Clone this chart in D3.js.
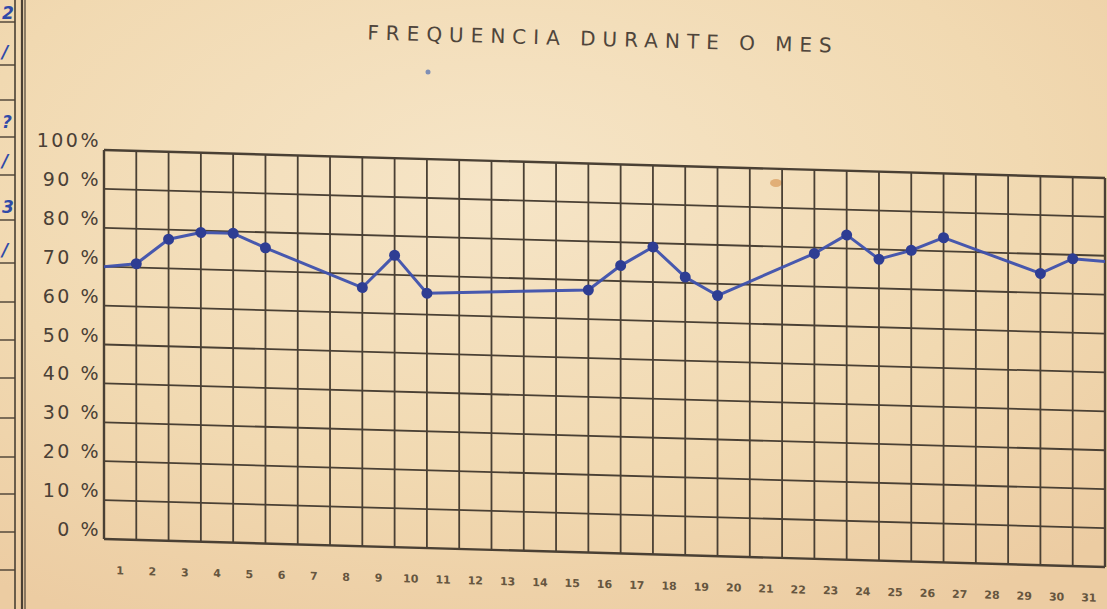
<!DOCTYPE html>
<html>
<head>
<meta charset="utf-8">
<script src="https://cdn.jsdelivr.net/npm/d3@7"></script>
<style>
	html, body { margin: 0; padding: 0; background: #f1dbb3; overflow: hidden; }
	svg { display: block; }
</style>
</head>
<body>
<svg id="chart" width="1107" height="609"></svg>
<script>

// Chart data
const title = "FREQUENCIA DURANTE O MES";
const yTicks = [0, 10, 20, 30, 40, 50, 60, 70, 80, 90, 100];
const yTickLabels = ["0 %", "10 %", "20 %", "30 %", "40 %", "50 %", "60 %", "70 %", "80 %", "90 %", "100%"];
const days = d3.range(1, 32);
const dayLabels = days.map(d => String(d));

// Points sit on the grid lines (line index), values in %
const pointPos = [0, 1, 2, 3, 4, 5, 8, 9, 10, 15, 16, 17, 18, 19, 22, 23, 24, 25, 26, 29, 30, 31];
const pointVals = [70, 71, 77.5, 79.5, 79.5, 76, 66.5, 75, 65.5, 67.5, 74, 79, 71.5, 67, 78.5, 83.5, 77.5, 80, 83.5, 75, 79, 78.5];
const pointDot = [false, true, true, true, true, true, true, true, true, true, true, true, true, true, true, true, true, true, true, true, true, false];

// Draw chart
function drawChart(svgId) {

	const svg = d3.select(svgId);

	// Paper background
	const defs = svg.append("defs");
	const grad = defs.append("radialGradient")
		.attr("id", "paper")
		.attr("cx", "45%").attr("cy", "30%").attr("r", "80%");
	grad.append("stop").attr("offset", "0%").attr("stop-color", "#f6e5c7");
	grad.append("stop").attr("offset", "60%").attr("stop-color", "#f1d9b1");
	grad.append("stop").attr("offset", "100%").attr("stop-color", "#eccca2");

	svg.append("rect")
		.attr("width", 1107).attr("height", 609)
		.attr("fill", "url(#paper)");

	// Left table edge (neighbouring form)
	const side = svg.append("g").attr("class", "side");
	side.append("line").attr("x1", 15).attr("x2", 15).attr("y1", 0).attr("y2", 609)
		.attr("stroke", "#4a4034").attr("stroke-width", 1.6);
	side.append("line").attr("x1", 22).attr("x2", 22).attr("y1", 0).attr("y2", 609)
		.attr("stroke", "#4a4034").attr("stroke-width", 2.2);
	side.append("line").attr("x1", 25).attr("x2", 25).attr("y1", 0).attr("y2", 609)
		.attr("stroke", "#4a4034").attr("stroke-width", 1.2);
	side.selectAll("line.row")
		.data([22, 65, 100, 137, 175, 220, 263, 302, 340, 378, 418, 457, 494, 532, 570])
		.join("line")
		.attr("class", "row")
		.attr("x1", 0).attr("x2", 15)
		.attr("y1", d => d).attr("y2", d => d)
		.attr("stroke", "#4a4034").attr("stroke-width", 1.4);
	side.selectAll("text")
		.data([{y: 19, t: "2"}, {y: 58, t: "/"}, {y: 128, t: "?"}, {y: 167, t: "/"}, {y: 213, t: "3"}, {y: 256, t: "/"}])
		.join("text")
		.attr("x", 2).attr("y", d => d.y)
		.text(d => d.t)
		.style("font-family", "DejaVu Sans")
		.style("font-size", "17px")
		.style("font-style", "italic")
		.style("font-weight", "bold")
		.attr("fill", "#2f4aa8");

	// Stains
	svg.append("ellipse").attr("cx", 776).attr("cy", 183).attr("rx", 6).attr("ry", 4)
		.attr("fill", "#d99a5a").attr("opacity", 0.7);
	svg.append("circle").attr("cx", 428).attr("cy", 72).attr("r", 2.5)
		.attr("fill", "#7f8fb5");

	// Title
	svg.append("text")
		.attr("x", 603).attr("y", 46)
		.attr("transform", "rotate(1.6, 603, 40)")
		.attr("text-anchor", "middle")
		.text(title)
		.style("font-family", "DejaVu Sans")
		.style("font-size", "20px")
		.style("letter-spacing", "7px")
		.attr("fill", "#4f453b");

	// Plot area: hand drawn grid leans a little
	const plotW = 1001, plotH = 389;
	const plot = svg.append("g")
		.attr("transform", "translate(104,150) skewY(1.6)");

	const x = d3.scaleLinear().domain([0, 31]).range([0, plotW]);
	const y = d3.scaleLinear().domain([0, 100]).range([plotH, 0]);

	// Grid
	plot.append("g").attr("class", "vgrid")
		.selectAll("line")
		.data(d3.range(0, 32))
		.join("line")
		.attr("x1", d => x(d)).attr("x2", d => x(d))
		.attr("y1", 0).attr("y2", plotH)
		.attr("stroke", "#4a4034")
		.attr("stroke-width", d => (d === 0 || d === 31) ? 2.4 : 1.8);

	plot.append("g").attr("class", "hgrid")
		.selectAll("line")
		.data(yTicks)
		.join("line")
		.attr("x1", 0).attr("x2", plotW)
		.attr("y1", d => y(d)).attr("y2", d => y(d))
		.attr("stroke", "#4a4034")
		.attr("stroke-width", d => (d === 0 || d === 100) ? 2.4 : 1.8);

	// Day labels under the grid, centred in the columns
	plot.append("g").attr("class", "xlabels")
		.selectAll("text")
		.data(days)
		.join("text")
		.attr("x", d => x(d - 0.5))
		.attr("y", plotH + 35)
		.attr("text-anchor", "middle")
		.text((d, i) => dayLabels[i])
		.style("font-family", "DejaVu Sans")
		.style("font-size", "11px")
		.style("font-weight", "bold")
		.attr("fill", "#66563f");

	// Percentage labels
	svg.append("g").attr("class", "ylabels")
		.selectAll("text")
		.data(yTicks)
		.join("text")
		.attr("x", 101)
		.attr("y", d => 150 + y(d) - 3)
		.attr("text-anchor", "end")
		.text((d, i) => yTickLabels[i])
		.style("font-family", "DejaVu Sans")
		.style("font-size", "19px")
		.style("letter-spacing", "2.5px")
		.attr("fill", "#4a4036");

	// Series
	const pts = pointPos.map((p, i) => ({pos: p, val: pointVals[i], dot: pointDot[i]}));

	const line = d3.line()
		.x(d => x(d.pos))
		.y(d => y(d.val));

	plot.append("path")
		.datum(pts)
		.attr("d", line)
		.attr("fill", "none")
		.attr("stroke", "#3d50ad")
		.attr("stroke-width", 3)
		.attr("stroke-linejoin", "round")
		.attr("opacity", 0.95);

	plot.append("g").attr("class", "dots")
		.selectAll("circle")
		.data(pts.filter(d => d.dot))
		.join("circle")
		.attr("cx", d => x(d.pos))
		.attr("cy", d => y(d.val))
		.attr("r", 5.5)
		.attr("fill", "#2e3d93");
}

drawChart("#chart");
</script>
</body>
</html>
